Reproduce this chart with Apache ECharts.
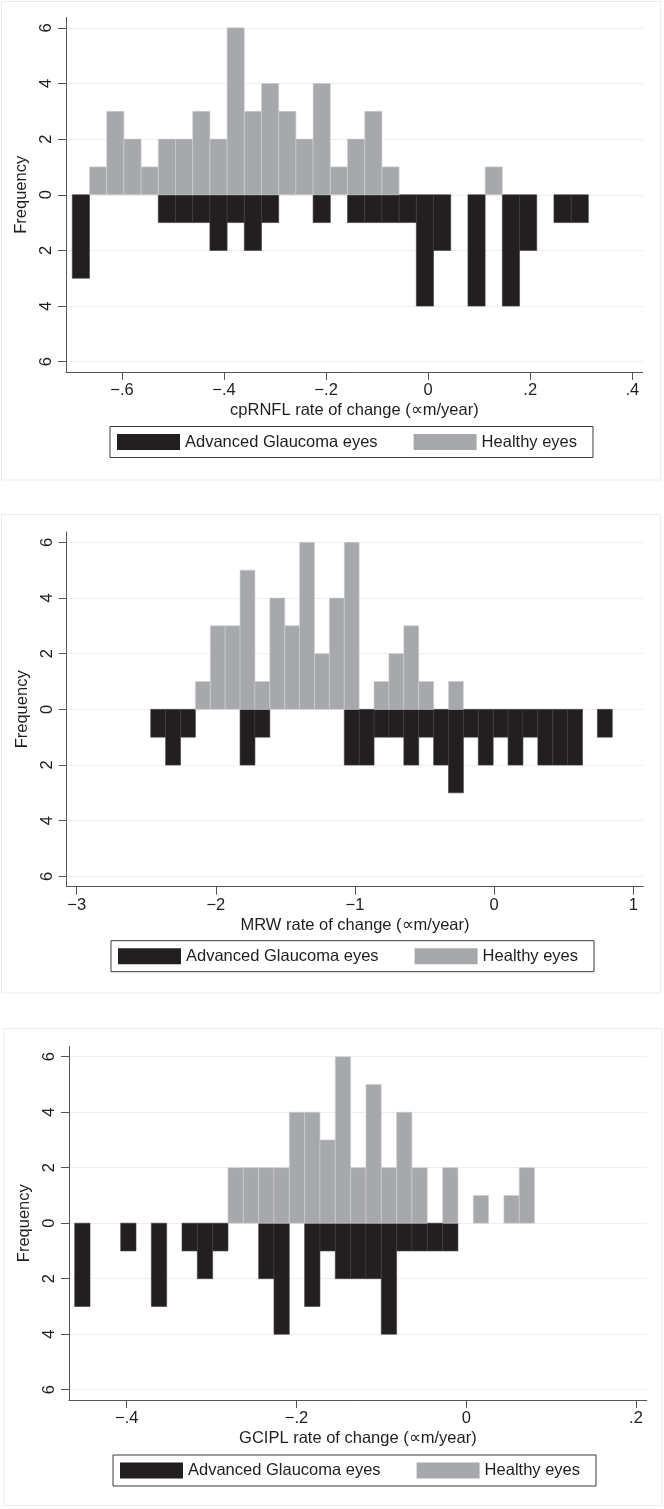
<!DOCTYPE html>
<html><head><meta charset="utf-8">
<script src="https://cdn.jsdelivr.net/npm/echarts@6/dist/echarts.min.js"></script>
<style>html,body{margin:0;padding:0;background:#fff}#c{width:664px;height:1509px}</style>
</head><body><div id="c"></div><script>
// ---------- DATA ----------
const seriesNames = ['Advanced Glaucoma eyes', 'Healthy eyes'];
const yTickValues = [-6, -4, -2, 0, 2, 4, 6];

// Panel 1: cpRNFL (30 bins)
const rnflTitle = 'cpRNFL rate of change (\u221Dm/year)';
const rnflBinStart = -0.6974;
const rnflBinWidth = 0.03371;
const rnflGlaucoma = [3,0,0,0,0,1,1,1,2,1,2,1,0,0,1,0,1,1,1,1,4,2,0,4,0,4,2,0,1,1];
const rnflHealthy  = [0,1,3,2,1,2,2,3,2,6,3,4,3,2,4,1,2,3,1,0,0,0,0,0,1,0,0,0,0,0];
const rnflXTicks = [-0.6, -0.4, -0.2, 0, 0.2, 0.4];

// Panel 2: MRW (31 bins)
const mrwTitle = 'MRW rate of change (\u221Dm/year)';
const mrwBinStart = -2.468;
const mrwBinWidth = 0.107;
const mrwGlaucoma = [1,2,1,0,0,0,2,1,0,0,0,0,0,2,2,1,1,2,1,2,3,1,2,1,2,1,2,2,2,0,1];
const mrwHealthy  = [0,0,0,1,3,3,5,1,4,3,6,2,4,6,0,1,2,3,1,0,1,0,0,0,0,0,0,0,0,0,0];
const mrwXTicks = [-3, -2, -1, 0, 1];

// Panel 3: GCIPL (30 bins)
const gciplTitle = 'GCIPL rate of change (\u221Dm/year)';
const gciplBinStart = -0.4613;
const gciplBinWidth = 0.01806;
const gciplGlaucoma = [3,0,0,1,0,3,0,1,2,1,0,0,2,4,0,3,1,2,2,2,4,1,1,1,1,0,0,0,0,0];
const gciplHealthy  = [0,0,0,0,0,0,0,0,0,0,2,2,2,2,4,4,3,6,2,5,2,4,2,0,2,0,1,0,1,2];
const gciplXTicks = [-0.4, -0.2, 0, 0.2];

// ---------- LAYOUT / STYLE ----------
const FONT = '"Liberation Sans", Arial, Helvetica, sans-serif';
const FS = 16.5;
const TXT = '#1e1e1e';
const AX = '#555555';
const BLACK = '#231f20';
const GRAY = '#a6a8ab';

const panels = [
  { title: rnflTitle, start: rnflBinStart, width: rnflBinWidth, g: rnflGlaucoma, h: rnflHealthy, xt: rnflXTicks,
    xmin: -0.7097, xmax: 0.4204, grid: {left: 66, top: 17.5, width: 576.7, height: 354.5},
    legend: {left: 110, top: 426.5}, box: {x: 1.5, y: 1.5, w: 659, h: 478.5} },
  { title: mrwTitle, start: mrwBinStart, width: mrwBinWidth, g: mrwGlaucoma, h: mrwHealthy, xt: mrwXTicks,
    xmin: -3.0719, xmax: 1.0719, grid: {left: 66.7, top: 532, width: 576.6, height: 354.7},
    legend: {left: 111, top: 940.7}, box: {x: 1.5, y: 514.5, w: 659, h: 478.5} },
  { title: gciplTitle, start: gciplBinStart, width: gciplBinWidth, g: gciplGlaucoma, h: gciplHealthy, xt: gciplXTicks,
    xmin: -0.468, xmax: 0.2126, grid: {left: 69, top: 1046.4, width: 577.7, height: 353.6},
    legend: {left: 113, top: 1455}, box: {x: 4, y: 1028.5, w: 658, h: 477} }
];

function fmtX(v) {
  const a = Number(Math.abs(v).toFixed(3));
  let s = String(a).replace(/^0\./, '.');
  return (v < -1e-9 ? '\u2212' : '') + s;
}

function binData(start, w, counts, sign) {
  return counts.map((c, k) => [start + k * w, start + (k + 1) * w, sign * c]);
}

function makeRender(stroke) {
  return function (params, api) {
    const v = api.value(2);
    if (!v) return null;
    const a = api.coord([api.value(0), 0]);
    const b = api.coord([api.value(1), v]);
    return {
      type: 'rect',
      shape: { x: a[0], y: Math.min(a[1], b[1]), width: b[0] - a[0], height: Math.abs(b[1] - a[1]) },
      style: { fill: api.visual('color'), stroke: stroke, lineWidth: 0.6 }
    };
  };
}

const grids = [], xAxes = [], yAxes = [], series = [], legends = [], graphics = [];
panels.forEach((p, i) => {
  grids.push(Object.assign({ containLabel: false }, p.grid));
  xAxes.push({
    gridIndex: i, type: 'value', min: p.xmin, max: p.xmax,
    axisLine: { show: true, onZero: false, lineStyle: { color: AX, width: 1 } },
    axisTick: { show: true, length: 8, customValues: p.xt, lineStyle: { color: AX } },
    axisLabel: { customValues: p.xt, formatter: fmtX, fontSize: FS, color: TXT, margin: 10, fontFamily: FONT },
    splitLine: { show: false },
    name: p.title, nameLocation: 'middle', nameGap: 30,
    nameTextStyle: { fontSize: FS, color: TXT, fontFamily: FONT }
  });
  yAxes.push({
    gridIndex: i, type: 'value', min: -6.37, max: 6.37,
    axisLine: { show: true, onZero: false, lineStyle: { color: AX, width: 1 } },
    axisTick: { show: true, length: 8, customValues: yTickValues, lineStyle: { color: AX } },
    axisLabel: { customValues: yTickValues, rotate: 90, formatter: v => String(Math.abs(v)),
                 fontSize: FS, color: TXT, margin: 11, fontFamily: FONT },
    splitLine: { show: true, lineStyle: { color: '#efefef', width: 1 } },
    name: 'Frequency', nameLocation: 'middle', nameGap: 21,
    nameTextStyle: { fontSize: FS, color: TXT, fontFamily: FONT }
  });
  series.push({
    type: 'custom', name: seriesNames[0], xAxisIndex: i, yAxisIndex: i,
    itemStyle: { color: BLACK }, renderItem: makeRender('#3c3c3c'),
    encode: { x: [0, 1], y: 2 }, data: binData(p.start, p.width, p.g, -1), z: 3
  });
  series.push({
    type: 'custom', name: seriesNames[1], xAxisIndex: i, yAxisIndex: i,
    itemStyle: { color: GRAY }, renderItem: makeRender('#cfd0d2'),
    encode: { x: [0, 1], y: 2 }, data: binData(p.start, p.width, p.h, 1), z: 3
  });
  legends.push({
    data: seriesNames, left: p.legend.left, top: p.legend.top, orient: 'horizontal',
    icon: 'rect', itemWidth: 63, itemHeight: 16, itemGap: 36, itemTextGap: 17,
    borderColor: '#3a3a3a', borderWidth: 1, padding: [7, 16, 7, 7], backgroundColor: '#fff',
    selectedMode: false, textStyle: { fontSize: FS, color: TXT, fontFamily: FONT }
  });
  graphics.push({
    type: 'rect', silent: true, z: -10,
    shape: { x: p.box.x, y: p.box.y, width: p.box.w, height: p.box.h },
    style: { fill: 'none', stroke: '#ebebeb', lineWidth: 1 }
  });
});

const chart = echarts.init(document.getElementById('c'), null, { renderer: 'canvas' });
chart.setOption({
  animation: false,
  backgroundColor: '#fff',
  textStyle: { fontFamily: FONT },
  grid: grids, xAxis: xAxes, yAxis: yAxes, series: series, legend: legends,
  graphic: graphics
});
</script></body></html>
